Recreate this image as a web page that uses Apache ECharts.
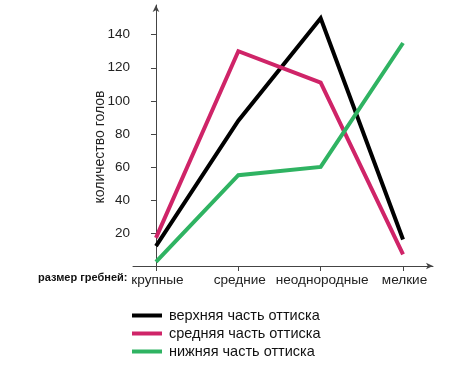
<!DOCTYPE html>
<html><head><meta charset="utf-8">
<script src="https://cdn.jsdelivr.net/npm/echarts@6/dist/echarts.min.js"></script>
<style>html,body{margin:0;padding:0;background:#fff}#c{width:458px;height:368px}</style>
</head><body><div id="c"></div>
<script>
const categories = ['крупные', 'средние', 'неоднородные', 'мелкие'];
const seriesNames = ['верхняя часть оттиска', 'средняя часть оттиска', 'нижняя часть оттиска'];
const upperValues = [12, 88, 150, 16];
const middleValues = [17, 130, 111, 7];
const lowerValues = [2.5, 55, 60, 135];
const yTicks = [20, 40, 60, 80, 100, 120, 140];
const yTitle = 'количество голов';
const xTitle = 'размер гребней:';

const toPts = arr => arr.map((v, i) => [i, v]);
const colors = ['#000000', '#cf2468', '#2fb362'];
const chart = echarts.init(document.getElementById('c'));
const font = 'Liberation Sans, Arial, sans-serif';
chart.setOption({
  animation: false,
  grid: { left: 133, top: 5, right: 25, bottom: 102, containLabel: false },
  xAxis: {
    type: 'value', min: -0.279, max: 3.364,
    splitLine: { show: false },
    axisLine: { lineStyle: { color: '#444', width: 1 }, symbol: ['none', 'arrow'], symbolSize: [5, 7] },
    axisTick: { customValues: [0, 1, 2, 3], length: 5, inside: false, lineStyle: { color: '#444' } },
    axisLabel: { customValues: [0, 1, 2, 3], formatter: v => categories[Math.round(v)], color: '#222', fontSize: 13.6, fontFamily: font, margin: 7, padding: [0, 0, 0, 3] }
  },
  yAxis: {
    type: 'value', min: 0, max: 158,
    splitLine: { show: false },
    axisLine: { lineStyle: { color: '#444', width: 1 }, symbol: ['none', 'arrow'], symbolSize: [5, 7] },
    axisTick: { customValues: yTicks, length: 5, lineStyle: { color: '#444' } },
    axisLabel: { customValues: yTicks, color: '#222', fontSize: 13.5, fontFamily: font, margin: 3, verticalAlign: 'middle', padding: [0, 0, 8, 0] }
  },
  legend: {
    orient: 'vertical', left: 132, top: 308, padding: 0, itemWidth: 30, itemHeight: 4, itemGap: 3,
    icon: 'rect', height: 60,
    textStyle: { color: '#111', fontSize: 14.5, fontFamily: font, padding: [0, 0, 0, 2] },
    data: seriesNames
  },
  graphic: [{
    type: 'text', left: 38, top: 272,
    style: { text: xTitle, fill: '#111', font: 'bold 11px ' + font }
  }, {
    type: 'text', x: 100, y: 147, rotation: Math.PI / 2,
    style: { text: yTitle, fill: '#222', font: '14px ' + font, align: 'center', verticalAlign: 'middle' }
  }],
  series: [upperValues, middleValues, lowerValues].map((arr, i) => ({
    type: 'line', name: seriesNames[i], data: toPts(arr), showSymbol: false, symbol: 'none',
    color: colors[i],
    lineStyle: { width: 4, color: colors[i], join: 'miter' }
  }))
});
</script></body></html>
